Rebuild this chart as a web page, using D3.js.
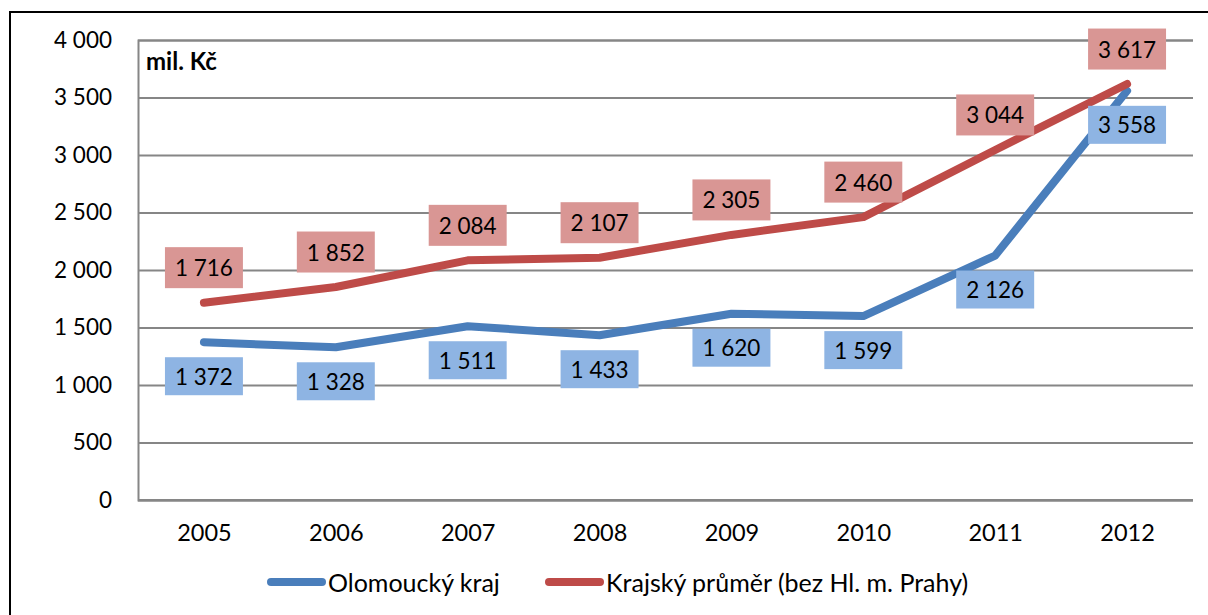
<!DOCTYPE html>
<html><head><meta charset="utf-8">
<script src="https://cdn.jsdelivr.net/npm/d3@7"></script>
<style>
html,body{margin:0;padding:0;background:#fff;}
svg{display:block;font-family:Lato, "Open Sans", sans-serif;}
</style></head>
<body>
<svg id="chart" width="1208" height="615"></svg>
<script>
const years = ["2005","2006","2007","2008","2009","2010","2011","2012"];
const olomoucky = [1372, 1328, 1511, 1433, 1620, 1599, 2126, 3558];
const krajsky = [1716, 1852, 2084, 2107, 2305, 2460, 3044, 3617];
const yTicks = [0, 500, 1000, 1500, 2000, 2500, 3000, 3500, 4000];
const seriesNames = ["Olomoucký kraj", "Krajský průměr (bez Hl. m. Prahy)"];
const unitLabel = "mil. Kč";

(function(){
const svg = d3.select("#chart");
const pLeft = 138, pRight = 1193, pTop = 40, pBottom = 500;
const numSize = 22.5;
const loc = d3.formatLocale({decimal: ",", thousands: "\u00a0", grouping: [3], currency: ["", " Kč"]});
const fmt = loc.format(",d");

const x = d3.scalePoint().domain(years).range([pLeft, pRight]).padding(0.5);
const y = d3.scaleLinear().domain([0, 4000]).range([pBottom, pTop]);

// outer border
svg.append("rect").attr("x", 10).attr("y", 12).attr("width", 1220).attr("height", 640)
  .attr("fill", "none").attr("stroke", "#000").attr("stroke-width", 2);

// gridlines + y axis
const gy = svg.append("g").attr("transform", `translate(${pLeft},0)`)
  .call(d3.axisLeft(y).tickValues(yTicks).tickSize(-(pRight - pLeft)).tickFormat(d => fmt(d)).tickPadding(26));
gy.select(".domain").attr("stroke", "#868686").attr("stroke-width", 2);
gy.selectAll(".tick line").attr("stroke", "#868686").attr("stroke-width", 2);
gy.selectAll(".tick text").attr("font-size", numSize).attr("fill", "#000")
  .attr("font-family", "Lato, 'Open Sans', sans-serif");

// x axis
const gx = svg.append("g").attr("transform", `translate(0,${pBottom})`)
  .call(d3.axisBottom(x).tickSize(0).tickPadding(24));
gx.select(".domain").attr("stroke", "#868686").attr("stroke-width", 2)
  .attr("d", `M${pLeft},0H${pRight}`);
gx.selectAll(".tick text").attr("font-size", 23.5).attr("fill", "#000")
  .attr("font-family", "Lato, 'Open Sans', sans-serif");

// unit label
svg.append("text").attr("x", 146).attr("y", 70).attr("font-size", 24)
  .attr("font-weight", "bold").text(unitLabel);

const line = d3.line().x((d, i) => x(years[i])).y(d => y(d));
const series = [
  {vals: olomoucky, color: "#4A7EBB", box: "#8EB4E3", off: 34, h: 38},
  {vals: krajsky, color: "#BE4B48", box: "#D99694", off: -35, h: 41}
];

series.forEach(s => {
  svg.append("path").datum(s.vals).attr("d", line).attr("fill", "none")
    .attr("stroke", s.color).attr("stroke-width", 8)
    .attr("stroke-linejoin", "round").attr("stroke-linecap", "round");
});

series.forEach(s => {
  const g = svg.append("g");
  s.vals.forEach((v, i) => {
    const cx = x(years[i]), cy = y(v) + s.off;
    const lg = g.append("g");
    const r = lg.append("rect").attr("fill", s.box);
    const t = lg.append("text").attr("x", cx).attr("y", cy).attr("text-anchor", "middle")
      .attr("dominant-baseline", "central").attr("font-size", numSize).attr("fill", "#000")
      .text(fmt(v));
    const w = t.node().getComputedTextLength() + 20;
    r.attr("x", cx - w / 2).attr("y", cy - s.h / 2).attr("width", w).attr("height", s.h);
  });
});

// legend
const legY = 582;
const leg = [
  {x1: 267, x2: 326, color: "#4A7EBB", name: seriesNames[0]},
  {x1: 545, x2: 604, color: "#BE4B48", name: seriesNames[1]}
];
leg.forEach(l => {
  svg.append("line").attr("x1", l.x1 + 4).attr("x2", l.x2 - 4).attr("y1", legY).attr("y2", legY)
    .attr("stroke", l.color).attr("stroke-width", 8).attr("stroke-linecap", "round");
  svg.append("text").attr("x", l.x2 + 2).attr("y", legY).attr("dominant-baseline", "central")
    .attr("font-size", 25).attr("fill", "#000").text(l.name);
});
})();
</script>
</body></html>
